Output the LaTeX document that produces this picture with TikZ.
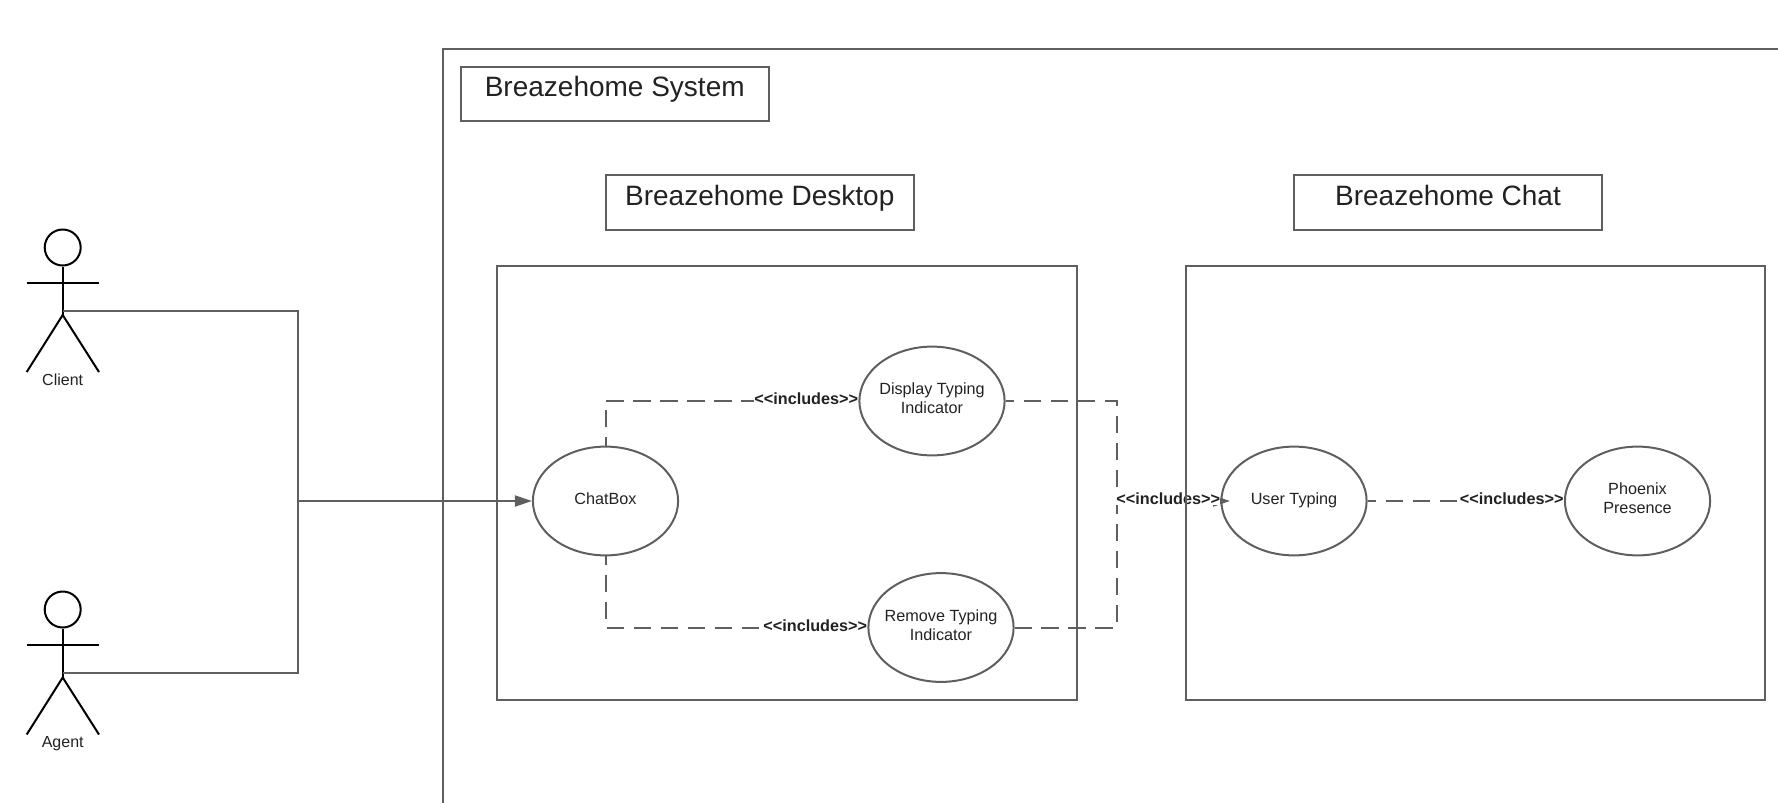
\documentclass[tikz,border=0pt]{standalone}
\usepackage{fontspec}
\setmainfont{Liberation Sans}
\usetikzlibrary{shapes.geometric}
\usetikzlibrary{positioning}
\usetikzlibrary{arrows.meta}
\definecolor{framegray}{HTML}{5F5F5F}
\definecolor{inkgray}{HTML}{222222}
\newcommand{\incword}{{<}{<}includes{>}{>}}
\tikzset{
  framebox/.style={draw=framegray,line width=1pt,inner sep=0pt},
  titlebox/.style={framebox,minimum width=154.2pt,minimum height=27.2pt},
  titletext/.style={inner sep=0pt,anchor=base,text=inkgray,font=\fontsize{14}{17}\selectfont},
  usecase/.style={ellipse,draw=framegray,line width=1pt,inner sep=0pt,minimum width=72.6pt,minimum height=54.4pt},
  casetext/.style={inner sep=0pt,align=center,text=inkgray,font=\fontsize{8.1}{9.7}\selectfont},
  inclabel/.style={inner sep=0pt,fill=white,text=inkgray,font=\bfseries\fontsize{8.1}{9.7}\selectfont},
  actorname/.style={inner sep=0pt,anchor=base,text=inkgray,font=\fontsize{8}{9.6}\selectfont},
  actorline/.style={line width=1pt,black},
  wire/.style={draw=framegray,line width=1pt},
  incline/.style={wire,dash pattern=on 8.8pt off 4.7pt,dash phase=4.4pt},
  wiretip/.style={-{Triangle[length=8.5pt,width=5.5pt]},fill=framegray}
}
\begin{document}
\begin{tikzpicture}[x=0.5pt,y=-0.5pt]
   \useasboundingbox (0,0) rectangle (1778,803);
   \coordinate (framebottom) at (443,803);
   \coordinate (framecorner) at (443,48.5);
   \coordinate (frameright) at (1778,48.5);
   \draw[wire] (framebottom)--(framecorner)--(frameright);

   \node[titlebox] (systembox) at (614.75,93.75) {};
   \node[titlebox] (desktopbox) at (759.75,202.5) {};
   \node[titlebox] (chatbox) at (1448,202.5) {};
   \node[titletext] (systemtext) at (614.75,96) {Breazehome System};
   \node[titletext] (desktoptext) at (759.75,205.5) {Breazehome Desktop};
   \node[titletext] (chattext) at (1448,205.5) {Breazehome Chat};

   \node[actorname] (clientname) at (62.7,385) {Client};
   \node[actorname] (agentname) at (62.7,747) {Agent};
   \node[circle,draw,actorline,minimum size=18pt,inner sep=0pt] (clienthead) at (62.7,247.5) {};
   \node[circle,draw,actorline,minimum size=18pt,inner sep=0pt] (agenthead) at (62.7,609.5) {};
   \coordinate (clienthip) at (62.7,311);
   \coordinate (clientcrotch) at (62.7,315);
   \coordinate (agenthip) at (62.7,673);
   \coordinate (agentcrotch) at (62.7,677.5);
   \draw[actorline] (clienthead.south)--(clientcrotch);
   \draw[actorline] (26.7,283)--(99,283);
   \draw[actorline] (26.7,372)--(clientcrotch)--(99,372);
   \draw[actorline] (agenthead.south)--(agentcrotch);
   \draw[actorline] (26.7,645)--(99,645);
   \draw[actorline] (26.7,734.5)--(agentcrotch)--(99,734.5);

   \coordinate (junction) at (298.3,501);
   \coordinate (bus) at (1117,501);
   \coordinate (usertip) at (1230,501);
   \coordinate (busup) at (1117,401);
   \coordinate (busdown) at (1117,627.5);

   \node[usecase] (chatbubble) at (605.5,501) {};
   \node[usecase] (display) at (932,401) {};
   \node[usecase] (remove) at (941,627.5) {};
   \node[usecase] (usertyping) at (1294,501) {};
   \node[usecase] (phoenix) at (1637.5,501) {};
   \node[casetext] (chatbubbletext) at (605.5,499) {ChatBox};
   \node[casetext] (displaytext) at (932,398) {Display Typing\\Indicator};
   \node[casetext] (removetext) at (941,625) {Remove Typing\\Indicator};
   \node[casetext] (usertypingtext) at (1294,500) {User Typing};
   \node[casetext] (phoenixtext) at (1637.5,498) {Phoenix\\Presence};

   \draw[wire] (clienthip)-|(junction);
   \draw[wire] (agenthip)-|(junction);
   \draw[wire,wiretip] (junction)--(chatbubble.west);
   \draw[incline] (chatbubble.north)|-(display.west);
   \draw[incline] (chatbubble.south)|-(remove.west);
   \draw[incline] (display.east)--(busup)--(busdown)--(remove.east);
   \draw[incline] (usertyping.east)--(phoenix.west);
   \draw[wire,wiretip] (bus)--(usertip);

   \node[inclabel,left=0pt of display.west,yshift=1pt] (inctop) {\incword};
   \node[inclabel,left=0pt of remove.west,yshift=1pt] (incbottom) {\incword};
   \node[inclabel,left=0pt of usertyping.west,yshift=1pt] (incbus) {\incword};
   \node[inclabel,left=0pt of phoenix.west,yshift=1pt] (incphoenix) {\incword};

   \node[framebox,minimum width=290pt,minimum height=217pt] (desktopframe) at (787,483) {};
   \node[framebox,minimum width=289.75pt,minimum height=217pt] (chatframe) at (1475.25,483) {};
\end{tikzpicture}
\end{document}
